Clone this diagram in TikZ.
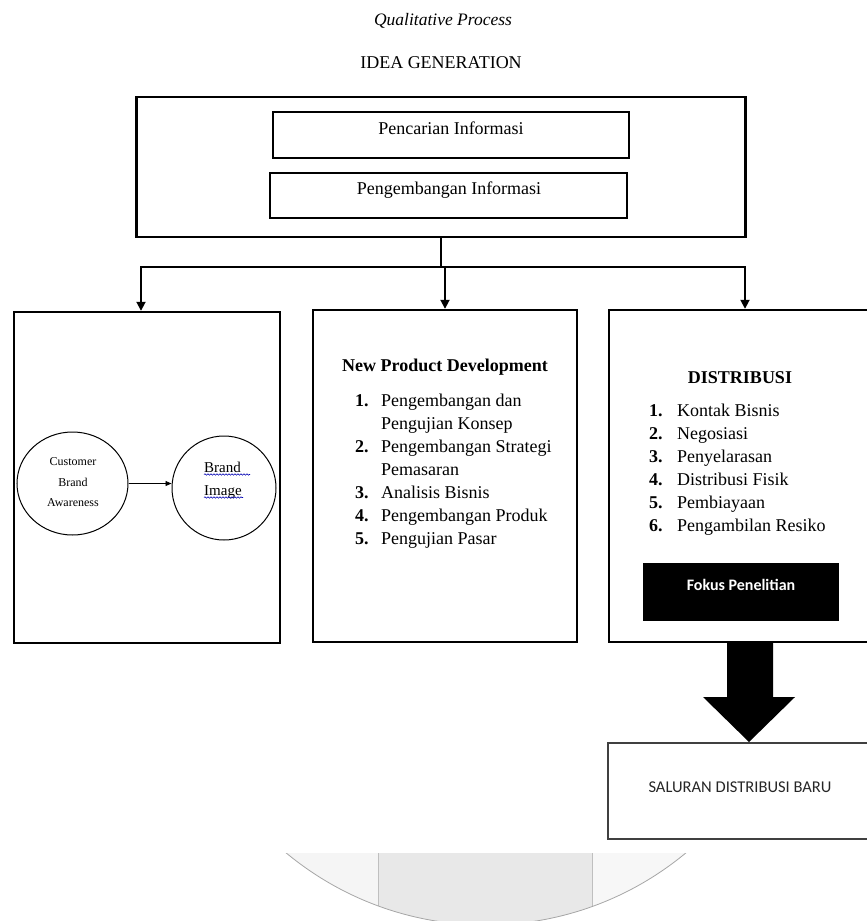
\documentclass[tikz,border=0pt]{standalone}
\usepackage{fontspec}
\setmainfont{Liberation Serif}
\newfontfamily\calibri{Carlito}
\usetikzlibrary{arrows.meta,decorations.pathmorphing,shapes.geometric}
\begin{document}
\begin{tikzpicture}[x=1pt,y=-1pt,
  frame/.style={draw, line width=2.4pt, inner sep=0pt},
  inbox/.style={draw, line width=2pt, inner sep=0pt},
  conn/.style={line width=1.8pt, line cap=rect},
  arr/.style={line width=1.8pt, -{Triangle[length=9pt,width=9pt]}},
  txt/.style={inner sep=0pt, anchor=base, font=\fontsize{18}{23}\selectfont},
  wavy/.style={draw=blue!70!black, line width=0.6pt, decorate, decoration={snake, amplitude=0.7pt, segment length=3pt}},
]
\useasboundingbox (0,0) rectangle (867,921);

% watermark at the bottom
\begin{scope}
  \clip (0,853) rectangle (867,930);
  \begin{scope}
    \clip (486,612) circle[radius=313pt];
    \fill[black!4] (150,853) rectangle (378,930);
    \fill[black!9] (378,853) rectangle (592,930);
    \fill[black!3] (592,853) rectangle (820,930);
    \draw[black!25, line width=0.8pt] (378,853) -- (378,930) (592,853) -- (592,930);
  \end{scope}
  \draw[black!35, line width=0.8pt] (486,612) circle[radius=313pt];
\end{scope}

% titles
\node[txt, font=\fontsize{17.5}{20}\selectfont\itshape] (qp) at (443,25) {Qualitative Process};
\node[txt] (ig) at (441,68) {IDEA GENERATION};

% idea generation box
\node[frame, minimum width=609pt, minimum height=140pt] (top) at (441,167) {};
\node[inbox, minimum width=356pt, minimum height=46pt] (pi) at (451,135) {};
\node[txt] (pit) at (451,134) {Pencarian Informasi};
\node[inbox, minimum width=357pt, minimum height=45pt] (pg) at (448.5,195.5) {};
\node[txt] (pgt) at (449,194) {Pengembangan Informasi};

% three boxes
\node[frame, minimum width=266pt, minimum height=331pt] (lb) at (147,477.5) {};
\node[frame, minimum width=264pt, minimum height=332pt] (mb) at (445,476) {};
\node[frame, minimum width=272pt, minimum height=332pt] (rb) at (745,476) {};

% tree connectors
\coordinate (j) at (441,267);
\coordinate (la) at ([xshift=-6pt]lb.north);
\draw[conn] (top.south) -- (top.south |- j);
\draw[conn] (la |- j) -- (rb.north |- j);
\draw[arr] (la |- j) -- (la);
\draw[arr] (mb.north |- j) -- (mb.north);
\draw[arr] (rb.north |- j) -- (rb.north);

% left box: circles
\node[draw, ellipse, line width=1pt, minimum width=111pt, minimum height=103pt, inner sep=0pt] (cba) at (72.5,483.5) {};
\node[draw, circle, line width=1pt, minimum size=104pt, inner sep=0pt] (bi) at (224,488) {};
\node[inner sep=0pt, align=center, font=\fontsize{12}{20.5}\selectfont] (cbat) at (73,482.5) {Customer\\Brand\\Awareness};
\node[inner sep=0pt, align=left, anchor=west, font=\fontsize{15}{23}\selectfont] (bit) at (204,480) {Brand\\Image};
\draw[wavy] (204,474.5) -- (250,474.5);
\draw[wavy] (204,497.5) -- (243,497.5);
\draw[line width=0.9pt, -{Triangle[length=6pt,width=5pt]}] (cba.east) -- (cba.east -| bi.west);

% middle box
\node[txt, font=\fontsize{18}{23}\selectfont\bfseries] (npd) at (445,371.5) {New Product Development};
\node[inner sep=0pt, anchor=base west, font=\fontsize{18}{23}\selectfont] (npdl) at (355,406)
  {\begin{tabular}[t]{@{}r@{\hspace{12.5pt}}l@{}}
   \textbf{1.} & Pengembangan dan\\
               & Pengujian Konsep\\
   \textbf{2.} & Pengembangan Strategi\\
               & Pemasaran\\
   \textbf{3.} & Analisis Bisnis\\
   \textbf{4.} & Pengembangan Produk\\
   \textbf{5.} & Pengujian Pasar
   \end{tabular}};

% right box
\node[txt, font=\fontsize{18}{23}\selectfont\bfseries] (dis) at (740,383) {DISTRIBUSI};
\node[inner sep=0pt, anchor=base west, font=\fontsize{18}{23}\selectfont] (disl) at (649,416)
  {\begin{tabular}[t]{@{}r@{\hspace{14.5pt}}l@{}}
   \textbf{1.} & Kontak Bisnis\\
   \textbf{2.} & Negosiasi\\
   \textbf{3.} & Penyelarasan\\
   \textbf{4.} & Distribusi Fisik\\
   \textbf{5.} & Pembiayaan\\
   \textbf{6.} & Pengambilan Resiko
   \end{tabular}};
\node[fill=black, minimum width=196pt, minimum height=58pt, inner sep=0pt] (fk) at (741,592) {};
\node[txt, text=white, font=\calibri\bfseries\fontsize{16}{19}\selectfont] (fkt) at (741,590) {Fokus Penelitian};

% result box and block arrow
\node[draw=black!75, line width=1.3pt, minimum width=272pt, minimum height=96pt, inner sep=0pt] (sal) at (744,791) {};
\node[txt, text=black!85, font=\calibri\fontsize{16.5}{19}\selectfont] (salt) at (740,792.5) {SALURAN DISTRIBUSI BARU};
\fill[black] (727,642) -- (773,642) -- (773,697) -- (795,697) -- (749,742) -- (703,697) -- (727,697) -- cycle;
\end{tikzpicture}
\end{document}
